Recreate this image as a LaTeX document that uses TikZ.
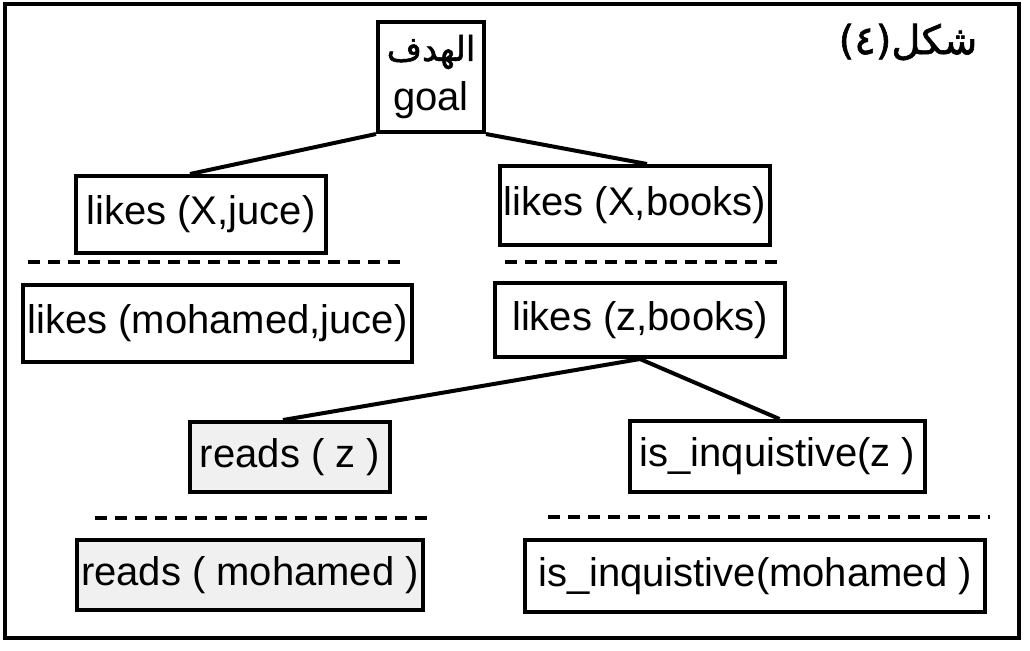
\documentclass[tikz,border=0pt]{standalone}
\usepackage{fontspec}
\setmainfont{Liberation Sans}
\newfontfamily\arabicfont[Script=Arabic,FakeBold=1.5]{DejaVu Sans}
\TeXXeTstate=1
\tikzset{
  font=\fontsize{20}{25}\selectfont,
  box/.style={draw=black, line width=2pt, fill=white, inner sep=2pt},
  grainy/.style={box, fill=black!6},
  sepline/.style={draw=black, line width=2.4pt, dash pattern=on 6pt off 4pt},
  conn/.style={draw=black, line width=2pt},
}
\begin{document}
\begin{tikzpicture}[x=0.5pt,y=-0.5pt]
\useasboundingbox (0,0) rectangle (1030,650);
% frame and caption
\draw[line width=1.6pt] (5,4) rectangle (1019,638);
\node (caption) at (908,42) {\arabicfont(٤)\beginR شكل\endR};
% goal
\node[box, align=center, minimum width=53pt, minimum height=55pt] (goal) at (431,77)
  {\arabicfont\fontsize{17}{25}\selectfont\beginR الهدف\endR\\goal};
% first level
\node[box, minimum width=125pt, minimum height=38.5pt] (xjuce) at (201,214.5) {likes (X,juce)};
\node[box, minimum width=135pt, minimum height=39.5pt] (xbooks) at (635,205.5) {likes (X,books)};
\draw[sepline] (28,262) -- (405,262);
\draw[sepline] (505,262) -- (780,262);
\node[box, minimum width=192.5pt, minimum height=38.5pt] (mjuce) at (217.5,323.5) {likes (mohamed,juce)};
\node[box, minimum width=145pt, minimum height=37pt] (zbooks) at (640,320) {likes (z,books)};
% second level
\node[grainy, minimum width=100pt, minimum height=35pt] (readz) at (290,457) {reads ( z )};
\node[box, minimum width=147.5pt, minimum height=35.5pt] (inqz) at (777.5,456.5) {is\_inquistive(z )};
\draw[sepline] (95,518) -- (430,518);
\draw[sepline] (548,517) -- (990,517);
\node[grainy, minimum width=170pt, minimum height=35pt] (readm) at (250,575) {reads ( mohamed )};
\node[box, minimum width=230pt, minimum height=36pt] (inqm) at (755,576) {is\_inquistive(mohamed )};
% tree lines
\draw[conn] (goal.south west) -- ([xshift=-5.5pt]xjuce.north);
\draw[conn] (goal.south east) -- ([xshift=6pt]xbooks.north);
\draw[conn] (zbooks.south) -- ([xshift=-3.5pt]readz.north);
\draw[conn] (zbooks.south) -- ([xshift=1pt]inqz.north);
\end{tikzpicture}
\end{document}
